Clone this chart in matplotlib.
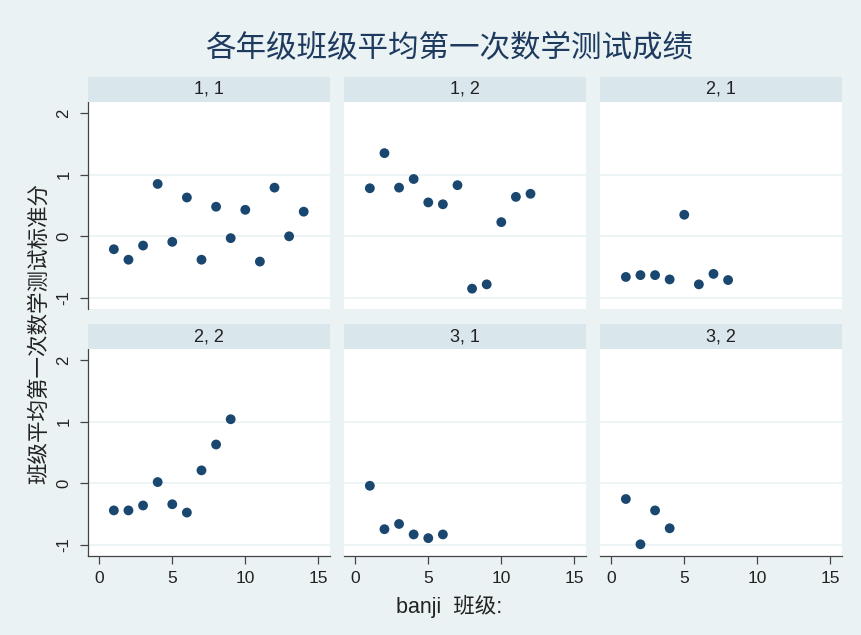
import matplotlib
matplotlib.use("Agg")
import matplotlib.pyplot as plt
from matplotlib.patches import Rectangle

plt.rcParams["font.family"] = ["Liberation Sans", "Noto Sans CJK SC"]

W, H = 861, 635
BG = "#EAF2F3"
STRIP = "#D9E6EB"
NAVY = "#1A476F"
TITLE_C = "#1E3A5F"

TITLE = "各年级班级平均第一次数学测试成绩"
YLABEL = "班级平均第一次数学测试标准分"
XLABEL = "banji  班级:"

panel_titles = ["1, 1", "1, 2", "2, 1", "2, 2", "3, 1", "3, 2"]
y_11 = [-0.21, -0.38, -0.15, 0.85, -0.09, 0.63, -0.38, 0.48, -0.03, 0.43, -0.41, 0.79, 0.0, 0.40]
y_12 = [0.78, 1.35, 0.79, 0.93, 0.55, 0.52, 0.83, -0.85, -0.78, 0.23, 0.64, 0.69]
y_21 = [-0.66, -0.63, -0.63, -0.70, 0.35, -0.78, -0.61, -0.71]
y_22 = [-0.44, -0.44, -0.36, 0.02, -0.34, -0.475, 0.21, 0.63, 1.04]
y_31 = [-0.04, -0.745, -0.66, -0.83, -0.89, -0.83]
y_32 = [-0.255, -0.99, -0.44, -0.73]
series = [y_11, y_12, y_21, y_22, y_31, y_32]

xticks = [0, 5, 10, 15]
yticks = [-1, 0, 1, 2]
grid_at = [-1, 0, 1]

col_left = [88, 344, 600]
panel_w = 242
rows = [(77, 102, 309), (324, 349, 556)]  # strip top, plot top, plot bottom (px)

fig = plt.figure(figsize=(W / 100, H / 100), dpi=100, facecolor=BG)


def fx(px):
    return px / W


def fy(py):
    return 1 - py / H


for k, (name, ys) in enumerate(zip(panel_titles, series)):
    r, c = divmod(k, 3)
    st, pt, pb = rows[r]
    left = col_left[c]
    ax = fig.add_axes([fx(left), fy(pb), panel_w / W, (pb - pt) / H])
    ax.set_facecolor("white")
    xs = list(range(1, len(ys) + 1))
    for g in grid_at:
        ax.axhline(g, color=BG, lw=1.2, zorder=0)
    ax.scatter(xs, ys, s=50, color=NAVY, edgecolors="none", zorder=3)
    ax.set_xlim(-0.77, 15.8)
    ax.set_ylim(-1.18, 2.18)
    for sp in ("top", "right"):
        ax.spines[sp].set_visible(False)
    ax.spines["left"].set_color("#444444")
    ax.spines["bottom"].set_color("#444444")
    ax.spines["left"].set_linewidth(0.9)
    ax.spines["bottom"].set_linewidth(0.9)

    if c == 0:
        ax.set_yticks(yticks)
        ax.set_yticklabels([str(t) for t in yticks], rotation=90, va="center")
        ax.tick_params(axis="y", length=6, width=0.9, color="#444444", pad=6,
                       labelsize=12, labelcolor="#222222")
    else:
        ax.spines["left"].set_visible(False)
        ax.set_yticks([])

    if r == 1:
        ax.set_xticks(xticks)
        ax.tick_params(axis="x", length=6, width=0.9, color="#444444", pad=5,
                       labelsize=12.5, labelcolor="#222222")
    else:
        ax.spines["bottom"].set_visible(False)
        ax.set_xticks([])

    # strip header
    fig.patches.append(Rectangle((fx(left), fy(pt)), panel_w / W, (pt - st) / H,
                                 transform=fig.transFigure, facecolor=STRIP,
                                 edgecolor="none", zorder=1))
    fig.text(fx(left + panel_w / 2), fy((st + pt) / 2), name, ha="center", va="center",
             fontsize=13, color="#222222")

fig.text(fx(449), fy(49), TITLE, ha="center", va="center", fontsize=22, color=TITLE_C)
fig.text(fx(40), fy(333), YLABEL, ha="center", va="center", rotation=90, fontsize=15.5,
         color="#222222")
fig.text(fx(449), fy(606), XLABEL, ha="center", va="center", fontsize=15.5, color="#222222")

fig.savefig("out.png", dpi=100, facecolor=BG)
